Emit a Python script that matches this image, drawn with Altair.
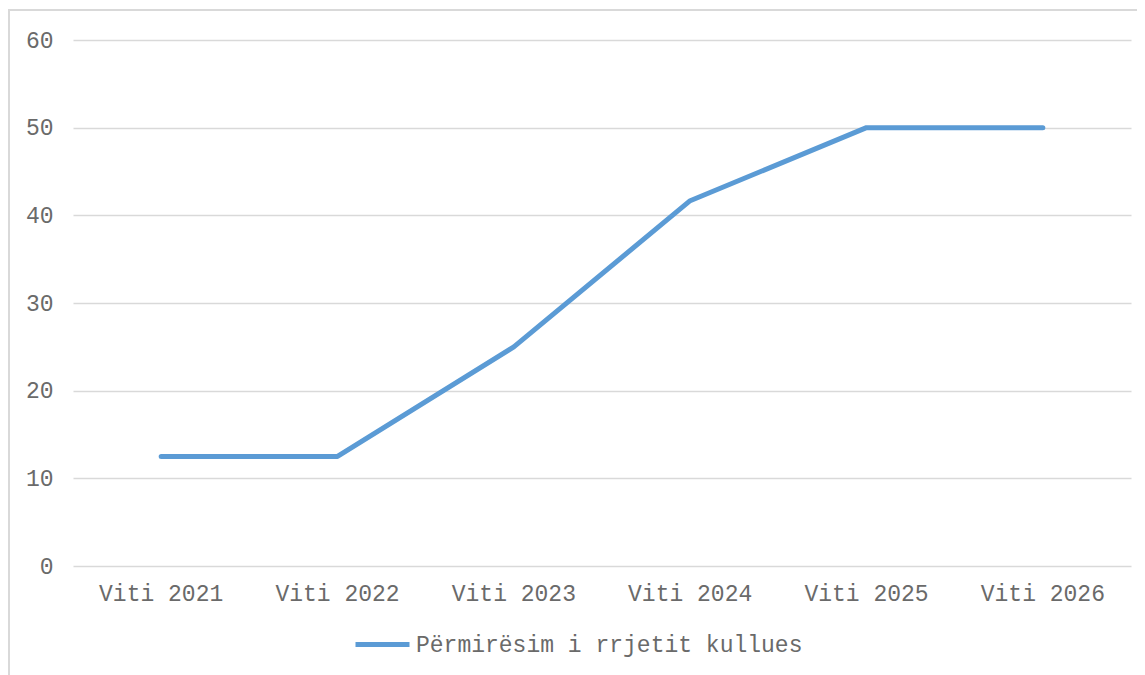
import altair as alt
import pandas as pd

categories = ["Viti 2021", "Viti 2022", "Viti 2023", "Viti 2024", "Viti 2025", "Viti 2026"]
values = [12.5, 12.5, 25, 41.67, 50, 50]
series_name = "Përmirësim i rrjetit kullues"
y_ticks = [0, 10, 20, 30, 40, 50, 60]

df = pd.DataFrame({"cat": categories, "val": values, "series": [series_name] * len(categories)})

W, H = 1058, 526
FONT = "Liberation Mono"
TXT = "#6a6a6a"

line = alt.Chart(df).mark_line(strokeWidth=5, strokeCap="round", strokeJoin="round").encode(
    x=alt.X("cat:N", sort=categories, title=None,
            scale=alt.Scale(type="band", paddingInner=0, paddingOuter=0),
            axis=alt.Axis(labelAngle=0, labelFont=FONT, labelFontSize=23, labelColor=TXT,
                          labelPadding=16, domain=False, ticks=False, grid=False)),
    y=alt.Y("val:Q", title=None,
            scale=alt.Scale(domain=[0, 60], nice=False),
            axis=alt.Axis(values=y_ticks, labelFont=FONT, labelFontSize=23, labelColor=TXT,
                          labelPadding=20, domain=False, ticks=False, grid=True,
                          gridColor="#d9d9d9", gridWidth=1.5)),
    color=alt.Color("series:N",
                    scale=alt.Scale(range=["#5b9bd5"]),
                    legend=alt.Legend(title=None, orient="none", legendX=280, legendY=575,
                                      symbolType="stroke", symbolSize=2916,
                                      symbolStrokeWidth=5, labelFont=FONT, labelFontSize=23,
                                      labelColor=TXT, labelOffset=4, labelLimit=0)),
)

border = alt.Chart(df).mark_rect(fill=None, stroke="#d9d9d9", strokeWidth=2, clip=False).encode(
    x=alt.value(-64), x2=alt.value(W + 40), y=alt.value(-30), y2=alt.value(H + 200)
)

chart = alt.layer(border, line).properties(
    width=W, height=H,
    autosize=alt.AutoSizeParams(type="none"),
    padding={"left": 65, "top": 32, "right": 6, "bottom": 115},
).configure_view(stroke=None)

chart.save("out.html", embed_options={"renderer": "svg", "actions": False})
